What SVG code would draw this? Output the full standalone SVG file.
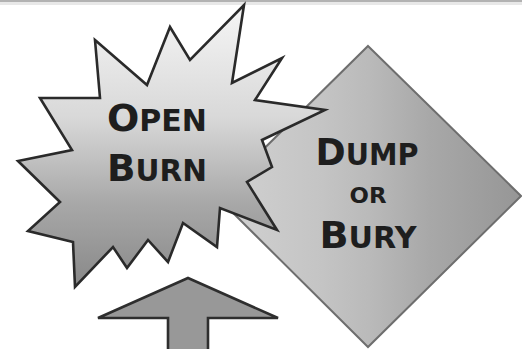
<svg xmlns="http://www.w3.org/2000/svg" width="522" height="349" viewBox="0 0 522 349">
  <style>
    .lbl { font-family: "DejaVu Sans", "Liberation Sans", sans-serif; font-weight: bold; fill: #1e1e1e; text-anchor: middle; }
    .big { font-size: 38px; }
    .sm { font-size: 30px; }
  </style>
  <defs>
    <linearGradient id="starFill" gradientUnits="userSpaceOnUse" x1="0" y1="5" x2="0" y2="288">
      <stop offset="0" stop-color="#f6f6f6"/>
      <stop offset="0.4" stop-color="#d8d8d8"/>
      <stop offset="0.7" stop-color="#a8a8a8"/>
      <stop offset="1" stop-color="#888888"/>
    </linearGradient>
    <linearGradient id="diaFill" gradientUnits="userSpaceOnUse" x1="216" y1="0" x2="521" y2="0">
      <stop offset="0" stop-color="#d2d2d2"/>
      <stop offset="0.35" stop-color="#c4c4c4"/>
      <stop offset="0.5" stop-color="#bababa"/>
      <stop offset="0.7" stop-color="#a8a8a8"/>
      <stop offset="1" stop-color="#969696"/>
    </linearGradient>
  </defs>
  <rect x="0" y="0" width="522" height="349" fill="#ffffff"/>
  <rect x="0" y="0" width="522" height="2" fill="#b2b2b2"/>
  <rect x="0" y="2" width="522" height="3" fill="#e8e8e8"/>

  <g id="node-dump-or-bury">
    <polygon points="368,46 521,196 368,347 216,196" fill="url(#diaFill)" stroke="#6e6e6e" stroke-width="2"/>
    <text class="lbl" x="367" y="165" textLength="103" lengthAdjust="spacingAndGlyphs"><tspan class="big">D</tspan><tspan class="sm">UMP</tspan></text>
    <text class="lbl" x="368" y="203" font-size="22" textLength="37" lengthAdjust="spacingAndGlyphs">OR</text>
    <text class="lbl" x="368" y="248" textLength="97" lengthAdjust="spacingAndGlyphs"><tspan class="big">B</tspan><tspan class="sm">URY</tspan></text>
  </g>

  <g id="node-open-burn">
    <polygon points="95,40 147,85 170,27 190,60 244,5 232,83 282,58 255,100 325,110 262,140 272,167 247,182 277,230 220,208 217,247 183,223 168,262 148,240 127,268 113,247 75,287 73,242 28,231 60,202 18,161 72,150 40,98 100,98" fill="url(#starFill)" stroke="#2a2a2a" stroke-width="2.6" stroke-linejoin="miter"/>
    <text class="lbl" x="157" y="131" textLength="100" lengthAdjust="spacingAndGlyphs"><tspan class="big">O</tspan><tspan class="sm">PEN</tspan></text>
    <text class="lbl" x="157" y="181" textLength="100" lengthAdjust="spacingAndGlyphs"><tspan class="big">B</tspan><tspan class="sm">URN</tspan></text>
  </g>

  <g id="connectors">
    <polygon id="up-arrow" points="188,278 278,318 208,318 208,355 168,355 168,318 98,318" fill="#989898" stroke="#2e2e2e" stroke-width="2.6" stroke-linejoin="miter"/>
  </g>
</svg>
